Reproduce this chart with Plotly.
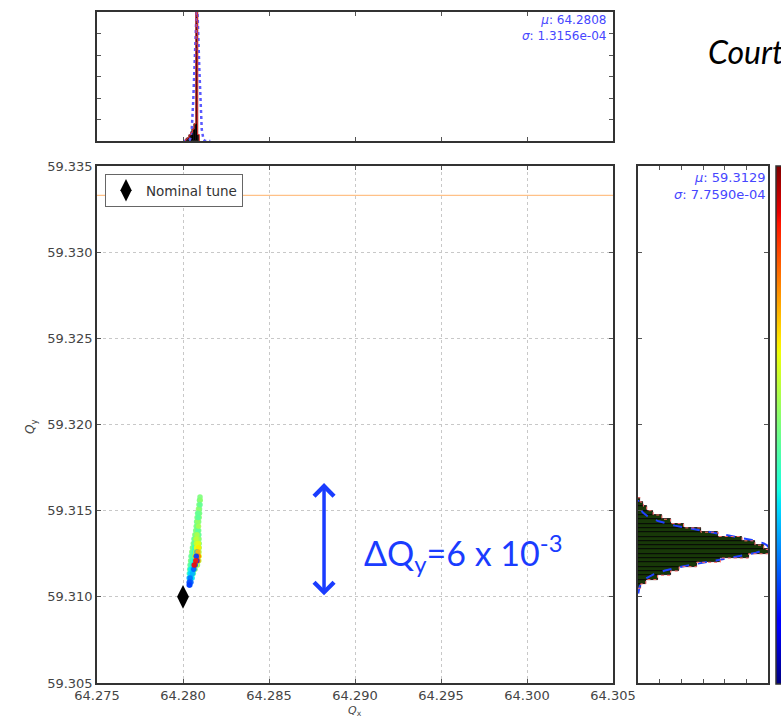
import numpy as np
import plotly.graph_objects as go

# ---- tune footprint (rows of equal Qy, left to right in Qx) ----
FP_ROW_QY = [59.31580, 59.31560, 59.31535, 59.31510, 59.31485, 59.31460,
             59.31435, 59.31410, 59.31385, 59.31360, 59.31335, 59.31310,
             59.31285, 59.31260, 59.31235, 59.31210, 59.31185, 59.31160,
             59.31135, 59.31110, 59.31085, 59.31068]
FP_ROW_QX = [
    [64.28099],
    [64.28096, 64.28100],
    [64.28093, 64.28099],
    [64.28090, 64.28096],
    [64.28085, 64.28091, 64.28096],
    [64.28082, 64.28088, 64.28094],
    [64.28079, 64.28085, 64.28091],
    [64.28077, 64.28083, 64.28090],
    [64.28074, 64.28080, 64.28086, 64.28091],
    [64.28069, 64.28075, 64.28081, 64.28087, 64.28092],
    [64.28064, 64.28070, 64.28076, 64.28082, 64.28088, 64.28093],
    [64.28060, 64.28066, 64.28072, 64.28078, 64.28084, 64.28090, 64.28094],
    [64.28055, 64.28061, 64.28067, 64.28073, 64.28079, 64.28085, 64.28091, 64.28094],
    [64.28051, 64.28057, 64.28063, 64.28069, 64.28075, 64.28081, 64.28087, 64.28093],
    [64.28047, 64.28053, 64.28059, 64.28065, 64.28071, 64.28077, 64.28083, 64.28089, 64.28094],
    [64.28044, 64.28050, 64.28056, 64.28062, 64.28068, 64.28074, 64.28080, 64.28086, 64.28092],
    [64.28041, 64.28047, 64.28053, 64.28059, 64.28065, 64.28071, 64.28077, 64.28084],
    [64.28039, 64.28045, 64.28051, 64.28057, 64.28063, 64.28070],
    [64.28037, 64.28043, 64.28049, 64.28055, 64.28060],
    [64.28036, 64.28042, 64.28048, 64.28053],
    [64.28036, 64.28041, 64.28046],
    [64.28036, 64.28040],
]
FP_ROW_AMP = [
    [0.50],
    [0.48, 0.52],
    [0.50, 0.47],
    [0.52, 0.49],
    [0.47, 0.51, 0.49],
    [0.50, 0.46, 0.52],
    [0.48, 0.53, 0.50],
    [0.51, 0.47, 0.55],
    [0.49, 0.52, 0.46, 0.50],
    [0.52, 0.48, 0.56, 0.50, 0.47],
    [0.47, 0.51, 0.58, 0.49, 0.54, 0.50],
    [0.50, 0.46, 0.52, 0.60, 0.55, 0.62, 0.49],
    [0.48, 0.52, 0.42, 0.50, 0.64, 0.58, 0.66, 0.51],
    [0.51, 0.47, 0.50, 0.38, 0.66, 0.30, 0.72, 0.55],
    [0.47, 0.50, 0.44, 0.52, 0.68, 0.18, 0.60, 0.78, 0.62],
    [0.50, 0.46, 0.40, 0.55, 0.36, 0.88, 0.16, 0.80, 0.58],
    [0.48, 0.43, 0.52, 0.34, 0.90, 0.20, 0.62, 0.50],
    [0.46, 0.36, 0.50, 0.32, 0.22, 0.52],
    [0.42, 0.34, 0.48, 0.30, 0.45],
    [0.30, 0.24, 0.40, 0.35],
    [0.20, 0.26, 0.22],
    [0.18, 0.22],
]

NOMINAL_QX = [64.2800]
NOMINAL_QY = [59.3100]
RESONANCE_QY = 59.3333

# ---- projected histograms ----
QX_MU, QX_SIGMA = 64.2808, 1.3156e-04
QY_MU, QY_SIGMA = 59.3129, 7.7590e-04
QX_FIT_PEAK = 6.3

QX_BIN_CENTERS = [64.2802, 64.2803, 64.2804, 64.2805, 64.2806, 64.2807,
                  64.2808, 64.2809]
QX_COUNTS = [0.08, 0.15, 0.28, 0.40, 0.55, 0.80, 40.0, 0.30]
QX_BIN_WIDTH = 0.0001

QY_BIN_EDGES = [59.31050, 59.31075, 59.31100, 59.31125, 59.31150, 59.31175,
                59.31200, 59.31225, 59.31250, 59.31275, 59.31300, 59.31325,
                59.31350, 59.31375, 59.31400, 59.31425, 59.31450, 59.31475,
                59.31500, 59.31525, 59.31550, 59.31575]
QY_COUNTS = [0.12, 0.36, 0.9, 1.5, 1.9, 2.7, 3.8, 5.1, 6.0, 5.8, 5.4,
             4.8, 3.7, 2.9, 2.1, 1.5, 1.1, 0.7, 0.4, 0.25, 0.1]

X_RANGE = [64.275, 64.305]
Y_RANGE = [59.305, 59.335]
DELTA_QY_TOP, DELTA_QY_BOTTOM, DELTA_X = 59.3166, 59.3100, 64.2882

# ---- layout geometry (paper fractions) ----
W, H = 781, 717
MAIN_X = [97 / W, 613 / W]
MAIN_Y = [1 - 683 / H, 1 - 166 / H]
TOP_Y = [1 - 141 / H, 1 - 12 / H]
RIGHT_X = [638 / W, 768 / W]

FRAME = "#333333"
TICKFONT = dict(family="DejaVu Sans", size=13, color="#444444")
STAT_BLUE = "#4646ff"
ANNOT_BLUE = "#1a3cff"

# matplotlib-style jet colour map
JET = [[0.0, "rgb(0,0,128)"], [0.11, "rgb(0,0,255)"], [0.125, "rgb(0,0,255)"],
       [0.34, "rgb(0,219,255)"], [0.35, "rgb(0,230,247)"], [0.375, "rgb(21,255,226)"],
       [0.64, "rgb(239,255,8)"], [0.65, "rgb(247,245,0)"], [0.66, "rgb(255,236,0)"],
       [0.89, "rgb(255,19,0)"], [0.91, "rgb(232,0,0)"], [1.0, "rgb(128,0,0)"]]

fp_qx = [x for row in FP_ROW_QX for x in row]
fp_qy = [y for y, row in zip(FP_ROW_QY, FP_ROW_QX) for _ in row]
fp_amp = [a for row in FP_ROW_AMP for a in row]
# draw the off-centre amplitudes last so they sit on top of the green core
order = sorted(range(len(fp_amp)), key=lambda i: abs(fp_amp[i] - 0.5))
fp_qx = [fp_qx[i] for i in order]
fp_qy = [fp_qy[i] for i in order]
fp_amp = [fp_amp[i] for i in order]

fig = go.Figure()

# third-order resonance line
fig.add_trace(go.Scatter(x=X_RANGE, y=[RESONANCE_QY, RESONANCE_QY], mode="lines",
                         line=dict(color="#ffb26b", width=1), showlegend=False,
                         hoverinfo="skip", xaxis="x", yaxis="y"))

# footprint coloured by amplitude
fig.add_trace(go.Scatter(
    x=fp_qx, y=fp_qy, mode="markers", showlegend=False, xaxis="x", yaxis="y",
    marker=dict(size=5.5, color=fp_amp, colorscale=JET, cmin=0, cmax=1,
                opacity=0.9, line=dict(width=0),
                colorbar=dict(x=776 / W, xanchor="left", y=sum(MAIN_Y) / 2,
                              yanchor="middle", len=518, lenmode="pixels",
                              thickness=22, thicknessmode="pixels",
                              outlinewidth=1.5, outlinecolor=FRAME,
                              showticklabels=False, ticks="", xpad=0, ypad=0))))

fig.add_trace(go.Scatter(x=NOMINAL_QX, y=NOMINAL_QY, mode="markers",
                         name="Nominal tune", xaxis="x", yaxis="y",
                         marker=dict(symbol="diamond-tall", size=17, color="black")))

# Qx histogram (top)
fig.add_trace(go.Bar(x=QX_BIN_CENTERS, y=QX_COUNTS, width=QX_BIN_WIDTH,
                     marker=dict(color="black", line=dict(color="black", width=0.5)),
                     showlegend=False, xaxis="x2", yaxis="y2"))
qx_curve = np.linspace(QX_MU - 6 * QX_SIGMA, QX_MU + 6 * QX_SIGMA, 401)
fig.add_trace(go.Scatter(
    x=qx_curve, y=QX_FIT_PEAK * np.exp(-(qx_curve - QX_MU) ** 2 / (2 * QX_SIGMA ** 2)),
    mode="lines", line=dict(color="#5a5aff", width=2.5, dash="dot"),
    showlegend=False, xaxis="x2", yaxis="y2"))
qx_edges = [c - QX_BIN_WIDTH / 2 for c in QX_BIN_CENTERS] + [QX_BIN_CENTERS[-1] + QX_BIN_WIDTH / 2]
step_x, step_y = [qx_edges[0]], [0]
for i, c in enumerate(QX_COUNTS):
    step_x += [qx_edges[i], qx_edges[i + 1]]
    step_y += [c, c]
step_x.append(qx_edges[-1]); step_y.append(0)
fig.add_trace(go.Scatter(x=step_x, y=step_y, mode="lines",
                         line=dict(color="#e03030", width=1),
                         showlegend=False, xaxis="x2", yaxis="y2"))

# Qy histogram (right, horizontal)
qy_centers = [(a + b) / 2 for a, b in zip(QY_BIN_EDGES[:-1], QY_BIN_EDGES[1:])]
qy_width = QY_BIN_EDGES[1] - QY_BIN_EDGES[0]
fig.add_trace(go.Bar(x=QY_COUNTS, y=qy_centers, width=qy_width, orientation="h",
                     marker=dict(color="#183808", line=dict(color="black", width=0.8)),
                     showlegend=False, xaxis="x3", yaxis="y3"))
qy_curve = np.linspace(QY_MU - 3.5 * QY_SIGMA, QY_MU + 3.5 * QY_SIGMA, 301)
fig.add_trace(go.Scatter(
    x=max(QY_COUNTS) * np.exp(-(qy_curve - QY_MU) ** 2 / (2 * QY_SIGMA ** 2)), y=qy_curve,
    mode="lines", line=dict(color="#2040ff", width=2, dash="dash"),
    showlegend=False, xaxis="x3", yaxis="y3"))
sy, sx = [QY_BIN_EDGES[0]], [0]
for i, c in enumerate(QY_COUNTS):
    sy += [QY_BIN_EDGES[i], QY_BIN_EDGES[i + 1]]
    sx += [c, c]
sy.append(QY_BIN_EDGES[-1]); sx.append(0)
fig.add_trace(go.Scatter(x=sx, y=sy, mode="lines",
                         line=dict(color="#ff6a6a", width=1, dash="dot"),
                         showlegend=False, xaxis="x3", yaxis="y3"))

frame_axis = dict(showline=True, linecolor=FRAME, linewidth=1.5, mirror="ticks",
                  ticks="inside", ticklen=4, tickcolor="#555555", zeroline=False)

fig.update_layout(
    width=W, height=H, margin=dict(l=0, r=0, t=0, b=0, autoexpand=False),
    paper_bgcolor="white", plot_bgcolor="white", bargap=0,
    font=dict(family="DejaVu Sans", color="#444444"),
    xaxis=dict(domain=MAIN_X, range=X_RANGE, dtick=0.005, tick0=64.275,
               tickformat=".3f", showgrid=True, gridcolor="#c8c8c8", griddash="dot",
               gridwidth=1, tickfont=TICKFONT, anchor="y", automargin=False, **frame_axis),
    yaxis=dict(domain=MAIN_Y, range=Y_RANGE, dtick=0.005, tick0=59.305,
               tickformat=".3f", showgrid=True, gridcolor="#c8c8c8", griddash="dot",
               gridwidth=1, tickfont=TICKFONT, anchor="x", automargin=False, **frame_axis),
    xaxis2=dict(domain=MAIN_X, range=X_RANGE, dtick=0.005, tick0=64.275,
                showticklabels=False, showgrid=False, anchor="y2", **frame_axis),
    yaxis2=dict(domain=TOP_Y, range=[0, 6], dtick=1, showticklabels=False,
                showgrid=False, anchor="x2", **frame_axis),
    xaxis3=dict(domain=RIGHT_X, range=[0, 6], dtick=1, showticklabels=False,
                showgrid=False, anchor="y3", **frame_axis),
    yaxis3=dict(domain=MAIN_Y, range=Y_RANGE, dtick=0.005, tick0=59.305,
                showticklabels=False, showgrid=False, anchor="x3", **frame_axis),
    legend=dict(x=105 / W, y=1 - 174 / H, xanchor="left", yanchor="top",
                bgcolor="white", bordercolor="#666666", borderwidth=1,
                font=dict(family="DejaVu Sans", size=13.5, color="#333333")),
    showlegend=True,
)

annotations = [
    # axis titles
    dict(text="<i>Q</i><sub>x</sub>", xref="paper", yref="paper", x=355 / W, y=1 - 711 / H,
         xanchor="center", yanchor="middle",
         showarrow=False, font=dict(size=11, color="#444444")),
    dict(text="<i>Q</i><sub>y</sub>", xref="paper", yref="paper", x=31 / W, y=1 - 427 / H,
         xanchor="center", yanchor="middle",
         textangle=-90, showarrow=False, font=dict(size=12, color="#444444")),
    # fit statistics
    dict(text=f"<i>μ</i>: {QX_MU:.4f}<br><i>σ</i>: {QX_SIGMA:.4e}", xref="paper", yref="paper",
         x=608 / W, y=1 - 11 / H, xanchor="right", yanchor="top", align="right",
         showarrow=False, font=dict(size=12, color=STAT_BLUE)),
    dict(text=f"<i>μ</i>: {QY_MU:.4f}<br><i>σ</i>: {QY_SIGMA:.4e}", xref="paper", yref="paper",
         x=767 / W, y=1 - 168 / H, xanchor="right", yanchor="top", align="right",
         showarrow=False, font=dict(size=13, color=STAT_BLUE)),
    # tune-spread arrow and label
    dict(x=DELTA_X, y=DELTA_QY_TOP, ax=DELTA_X, ay=DELTA_QY_BOTTOM, xref="x", yref="y",
         axref="x", ayref="y", text="", showarrow=True, arrowside="end+start",
         arrowhead=4, arrowsize=1.1, arrowwidth=3.5, arrowcolor=ANNOT_BLUE),
    dict(text="ΔQ<sub>y</sub>=6 x 10<sup>-3</sup>", xref="x", yref="y",
         x=64.29041, y=59.31254, xanchor="left", yanchor="middle", showarrow=False,
         font=dict(family="Lato", size=34, color=ANNOT_BLUE)),
    dict(text="<i>Courtesy</i>", xref="paper", yref="paper", x=706 / W, y=1 - 52 / H,
         xanchor="left", yanchor="middle", showarrow=False,
         font=dict(family="Lato", size=32, color="black")),
]
fig.update_layout(annotations=annotations)

fig.write_html("out.html")
